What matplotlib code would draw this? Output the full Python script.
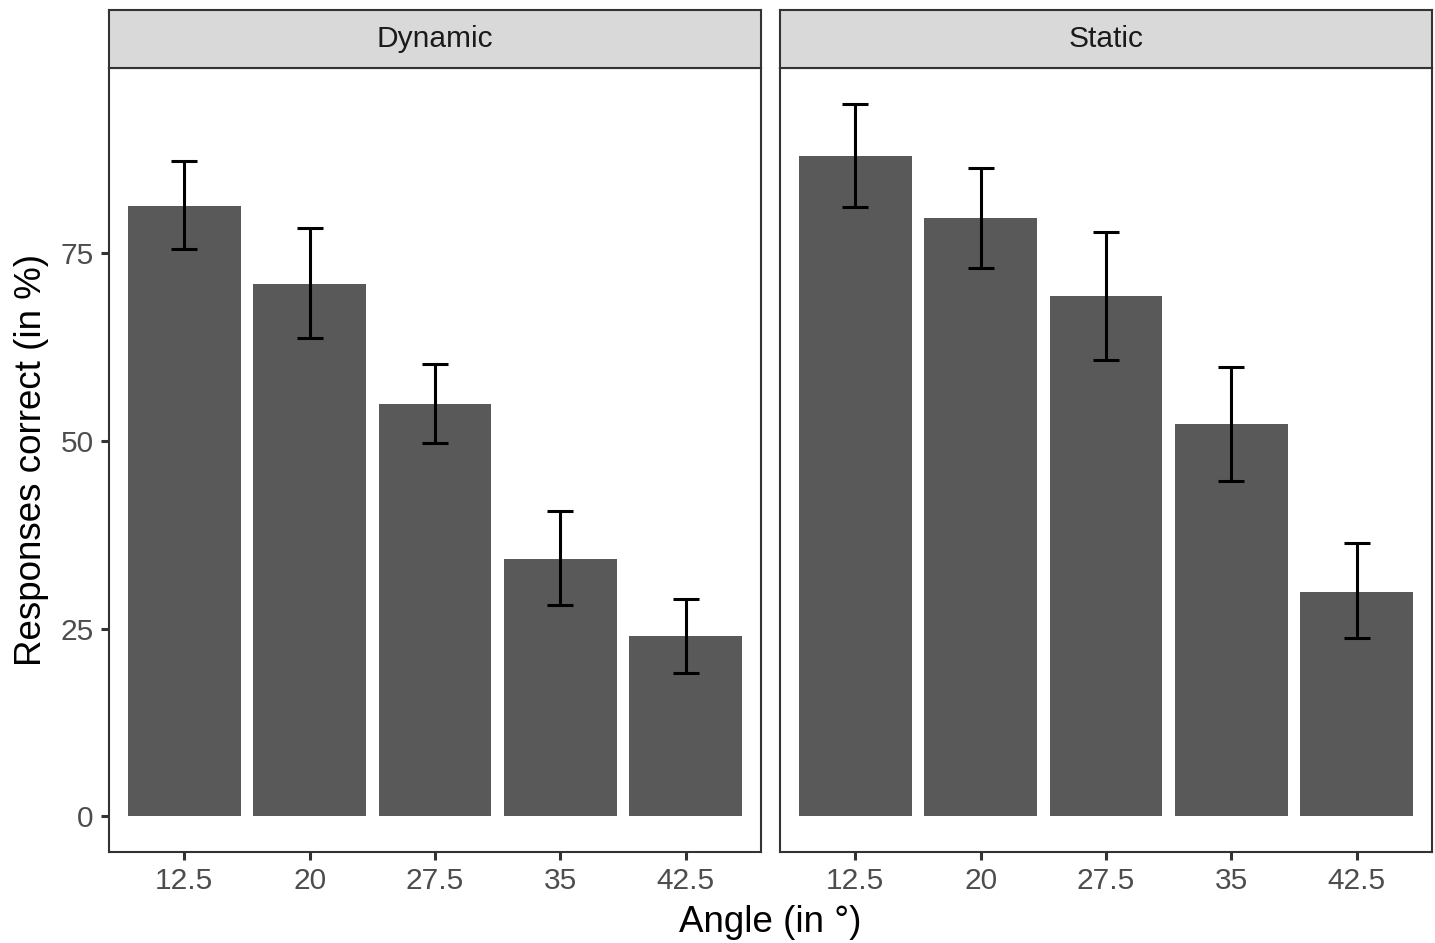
import numpy as np
import matplotlib
matplotlib.use("Agg")
import matplotlib.pyplot as plt

plt.rcParams['font.family'] = ['Liberation Sans', 'DejaVu Sans']

angles = ["12.5", "20", "27.5", "35", "42.5"]
panels = ["Dynamic", "Static"]
dyn_mean = [81.3, 70.9, 54.9, 34.3, 24.0]
dyn_lo = [75.5, 63.7, 49.7, 28.2, 19.1]
dyn_hi = [87.2, 78.3, 60.2, 40.6, 28.9]
sta_mean = [87.9, 79.7, 69.3, 52.3, 29.9]
sta_lo = [81.1, 73.0, 60.8, 44.7, 23.7]
sta_hi = [94.9, 86.3, 77.8, 59.8, 36.4]

means = [dyn_mean, sta_mean]
los = [dyn_lo, sta_lo]
his = [dyn_hi, sta_hi]

W, H = 1435, 943
fig = plt.figure(figsize=(W / 100, H / 100), dpi=100)

lefts = [109, 780]
pw = 652
top, bot = 68, 852
strip_top = 10

ymax = max(max(h) for h in his)
ylim = (-0.05 * ymax, ymax * 1.05)
x = np.arange(len(angles))

for i, name in enumerate(panels):
    ax = fig.add_axes([lefts[i] / W, 1 - bot / H, pw / W, (bot - top) / H])
    ax.bar(x, means[i], width=0.9, color='#595959', zorder=2)
    m = np.array(means[i])
    err = [m - np.array(los[i]), np.array(his[i]) - m]
    ax.errorbar(x, m, yerr=err, fmt='none', ecolor='black', elinewidth=2.2,
                capsize=9.7, capthick=2.2, zorder=3)
    ax.set_xlim(-0.6, len(angles) - 0.4)
    ax.set_ylim(*ylim)
    ax.set_xticks(x)
    ax.set_xticklabels(angles)
    ax.set_yticks([0, 25, 50, 75])
    ax.tick_params(axis='both', labelsize=21.5, labelcolor='#4d4d4d', color='#333333',
                   length=6, width=2.2, pad=5)
    for s in ax.spines.values():
        s.set_color('#333333')
        s.set_linewidth(1.5)
    if i == 1:
        ax.tick_params(axis='y', left=False, labelleft=False)
    else:
        ax.set_ylabel("Responses correct (in %)", fontsize=26.5, labelpad=8)

    # facet strip
    sax = fig.add_axes([lefts[i] / W, 1 - top / H, pw / W, (top - strip_top) / H])
    sax.set_facecolor('#d9d9d9')
    sax.set_xticks([])
    sax.set_yticks([])
    for s in sax.spines.values():
        s.set_color('#333333')
        s.set_linewidth(1.5)
    sax.text(0.5, 0.5, name, ha='center', va='center', fontsize=21.5,
             color='#1a1a1a', transform=sax.transAxes)

fig.text((lefts[0] + lefts[1] + pw) / 2 / W, 1 - 922 / H, "Angle (in °)",
         ha='center', va='center', fontsize=26.5)

fig.savefig("out.png", dpi=100)
